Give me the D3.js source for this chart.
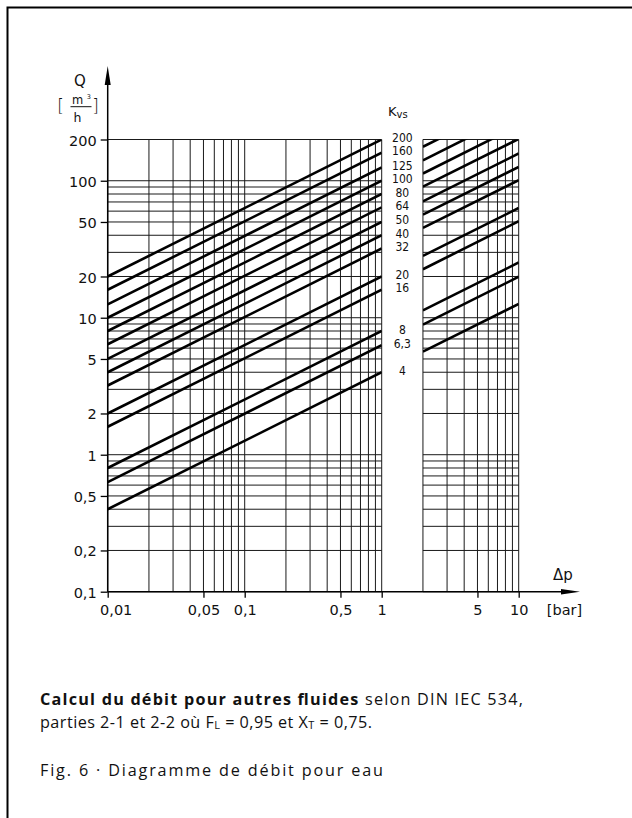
<!DOCTYPE html>
<html><head><meta charset="utf-8">
<script src="https://cdn.jsdelivr.net/npm/d3@7"></script>
<style>body{margin:0;background:#fff} svg{display:block}</style>
</head><body>
<svg id="c" width="632" height="818"></svg>
<script>
// ---------- data ----------
const kvs       = [200, 160, 125, 100, 80, 64, 50, 40, 32, 20, 16, 8, 6.3, 4];
const kvsLabels = ["200","160","125","100","80","64","50","40","32","20","16","8","6,3","4"];
// Q [m3/h] read at Δp = 0.01 bar (left edge)
const qAt001 = [20, 16, 12.5, 10, 8, 6.4, 5, 4, 3.2, 2, 1.6, 0.8, 0.63, 0.4];
// Q read at Δp = 1 bar (end of left panel)
const qAt1   = [200, 160, 125, 100, 80, 64, 50, 40, 32, 20, 16, 8, 6.3, 4];
// Q read at Δp = 2 bar (start of right panel) and Δp = 10 bar (right edge)
const qAt2   = [283, 226, 177, 141, 113, 90.5, 70.7, 56.6, 45.3, 28.3, 22.6, 11.3, 8.9, 5.66];
const qAt10  = [632, 506, 395, 316, 253, 202, 158, 126, 101, 63.2, 50.6, 25.3, 19.9, 12.6];

const xTickValues = [0.01, 0.05, 0.1, 0.5, 1, 5, 10];
const xTickLabels = ["0,01", "0,05", "0,1", "0,5", "1", "5", "10"];
const yTickValues = [0.1, 0.2, 0.5, 1, 2, 5, 10, 20, 50, 100, 200];
const yTickLabels = ["0,1", "0,2", "0,5", "1", "2", "5", "10", "20", "50", "100", "200"];

const gridXLeft  = [0.01,0.02,0.03,0.04,0.05,0.06,0.07,0.08,0.09,0.1,0.2,0.3,0.4,0.5,0.6,0.7,0.8,0.9,1];
const gridXRight = [2,3,4,5,6,7,8,9,10];
const gridQ = [0.1,0.2,0.3,0.4,0.5,0.6,0.7,0.8,0.9,1,2,3,4,5,6,7,8,9,10,20,30,40,50,60,70,80,90,100,200];
const panels = [[0.01, 1], [2, 10]];

// ---------- drawing ----------
const FONT = "'DejaVu Sans', sans-serif";
const CAPFONT = "'Open Sans', 'Noto Sans', sans-serif";
const svg = d3.select("#c");
const x = d3.scaleLog().domain([0.01, 10]).range([107.7, 518.7]);
const y = d3.scaleLog().domain([0.1, 200]).range([591.7, 139.5]);

// frame
svg.append("path").attr("d", "M7.5,818V7.5H632").attr("fill", "none")
  .attr("stroke", "#000").attr("stroke-width", 2);

const defs = svg.append("defs");
panels.forEach((p, i) => {
  defs.append("clipPath").attr("id", "clip" + i).append("rect")
    .attr("x", x(p[0])).attr("y", y(200))
    .attr("width", x(p[1]) - x(p[0])).attr("height", y(0.1) - y(200));
});

const grid = svg.append("g").attr("stroke", "#1a1a1a").attr("stroke-width", 1);
panels.forEach((p, i) => {
  const gx = i === 0 ? gridXLeft : gridXRight;
  grid.selectAll(null).data(gx).join("line")
    .attr("x1", d => x(d)).attr("x2", d => x(d))
    .attr("y1", y(0.1)).attr("y2", y(200));
  grid.selectAll(null).data(gridQ).join("line")
    .attr("x1", x(p[0])).attr("x2", x(p[1]))
    .attr("y1", d => y(d)).attr("y2", d => y(d));
});

// Kvs lines
const lineGen = d3.line().x(d => x(d[0])).y(d => y(d[1]));
const leftG = svg.append("g").attr("clip-path", "url(#clip0)");
const rightG = svg.append("g").attr("clip-path", "url(#clip1)");
kvs.forEach((k, i) => {
  leftG.append("path").attr("d", lineGen([[0.01, qAt001[i]], [1, qAt1[i]]]))
    .attr("fill", "none").attr("stroke", "#000").attr("stroke-width", 2.6);
  rightG.append("path").attr("d", lineGen([[2, qAt2[i]], [10, qAt10[i]]]))
    .attr("fill", "none").attr("stroke", "#000").attr("stroke-width", 2.6);
});

// axes (ticks + labels)
const yAxis = d3.axisLeft(y).tickValues(yTickValues)
  .tickFormat((d, i) => yTickLabels[i]).tickSize(7).tickPadding(4);
const gy = svg.append("g").attr("transform", `translate(${x(0.01)},0)`).call(yAxis);
gy.select(".domain").remove();
gy.selectAll("line").attr("stroke", "#000").attr("stroke-width", 1.3);
gy.selectAll("text").attr("font-family", FONT).attr("font-size", 14.5).attr("fill", "#111").attr("dy", "0.38em");

const xAxis = d3.axisBottom(x).tickValues(xTickValues)
  .tickFormat((d, i) => xTickLabels[i]).tickSize(6).tickPadding(7);
const gx = svg.append("g").attr("transform", `translate(0,${y(0.1)})`).call(xAxis);
gx.select(".domain").remove();
gx.selectAll("line").attr("stroke", "#000").attr("stroke-width", 1.3);
gx.selectAll("text").attr("font-family", FONT).attr("font-size", 14.5).attr("fill", "#111")
  .attr("dx", (d, i) => i === 0 ? 8 : 0);

// axis lines with arrows
const x0 = x(0.01), y0 = y(0.1);
svg.append("line").attr("x1", x0).attr("x2", x0).attr("y1", y0).attr("y2", 80)
  .attr("stroke", "#000").attr("stroke-width", 1.5);
svg.append("path").attr("d", `M${x0},66L${x0 - 3},85L${x0 + 3},85Z`).attr("fill", "#000");
svg.append("line").attr("x1", x0).attr("x2", 566).attr("y1", y0).attr("y2", y0)
  .attr("stroke", "#000").attr("stroke-width", 1.5);
svg.append("path").attr("d", `M580,${y0}L561,${y0 - 2.8}L561,${y0 + 2.8}Z`).attr("fill", "#000");

// axis titles
const t = svg.append("g").attr("font-family", FONT).attr("fill", "#111");
t.append("text").attr("x", 80).attr("y", 86).attr("text-anchor", "middle").attr("font-size", 15).text("Q");
t.append("text").attr("x", 60.5).attr("y", 112).attr("text-anchor", "middle").attr("font-size", 17).attr("font-weight", 300).text("[");
t.append("text").attr("x", 95.5).attr("y", 112).attr("text-anchor", "middle").attr("font-size", 17).attr("font-weight", 300).text("]");
t.append("text").attr("x", 77.5).attr("y", 103.5).attr("text-anchor", "middle").attr("font-size", 11.5).text("m");
t.append("text").attr("x", 88.8).attr("y", 98.5).attr("text-anchor", "middle").attr("font-size", 6.5).text("3");
t.append("line").attr("x1", 70.5).attr("x2", 91.5).attr("y1", 106.7).attr("y2", 106.7).attr("stroke", "#111").attr("stroke-width", 1);
t.append("text").attr("x", 77.5).attr("y", 122.3).attr("text-anchor", "middle").attr("font-size", 12.5).text("h");

t.append("text").attr("x", 563).attr("y", 580).attr("text-anchor", "middle").attr("font-size", 15).text("Δp");
t.append("text").attr("x", 564.5).attr("y", 615).attr("text-anchor", "middle").attr("font-size", 14.5).text("[bar]");

// Kvs header and labels
const kh = t.append("text").attr("x", 388).attr("y", 116).attr("font-size", 13);
kh.append("tspan").text("K");
kh.append("tspan").attr("font-size", 10).attr("dy", 1.5).text("vs");

const xMid = (x(1) + x(2)) / 2;
svg.append("g").selectAll("text").data(kvs).join("text")
  .attr("x", xMid).attr("y", d => y(d) - 1.5)
  .attr("text-anchor", "middle").attr("dominant-baseline", "central")
  .attr("font-family", "'Liberation Sans Narrow', 'DejaVu Sans Condensed', sans-serif")
  .attr("font-size", 12).attr("fill", "#111")
  .text((d, i) => kvsLabels[i]);

// caption (line widths matched to the reference with textLength)
const cap = svg.append("g").attr("font-family", CAPFONT).attr("fill", "#111").attr("font-size", 16.2);
const l1 = cap.append("text").attr("x", 40).attr("y", 705)
  .attr("textLength", 483).attr("lengthAdjust", "spacing");
l1.append("tspan").attr("font-weight", "bold").text("Calcul du débit pour autres fluides");
l1.append("tspan").text(" selon DIN IEC 534,");
const l2 = cap.append("text").attr("x", 40).attr("y", 727.5)
  .attr("textLength", 332).attr("lengthAdjust", "spacing");
l2.append("tspan").text("parties 2-1 et 2-2 où F");
l2.append("tspan").attr("font-size", "0.68em").attr("dy", 1.2).text("L");
l2.append("tspan").attr("dy", -1.2).text(" = 0,95 et X");
l2.append("tspan").attr("font-size", "0.68em").attr("dy", 1.2).text("T");
l2.append("tspan").attr("dy", -1.2).text(" = 0,75.");
cap.append("text").attr("x", 40).attr("y", 776)
  .attr("textLength", 343).attr("lengthAdjust", "spacing")
  .text("Fig. 6 · Diagramme de débit pour eau");
</script>
</body></html>
